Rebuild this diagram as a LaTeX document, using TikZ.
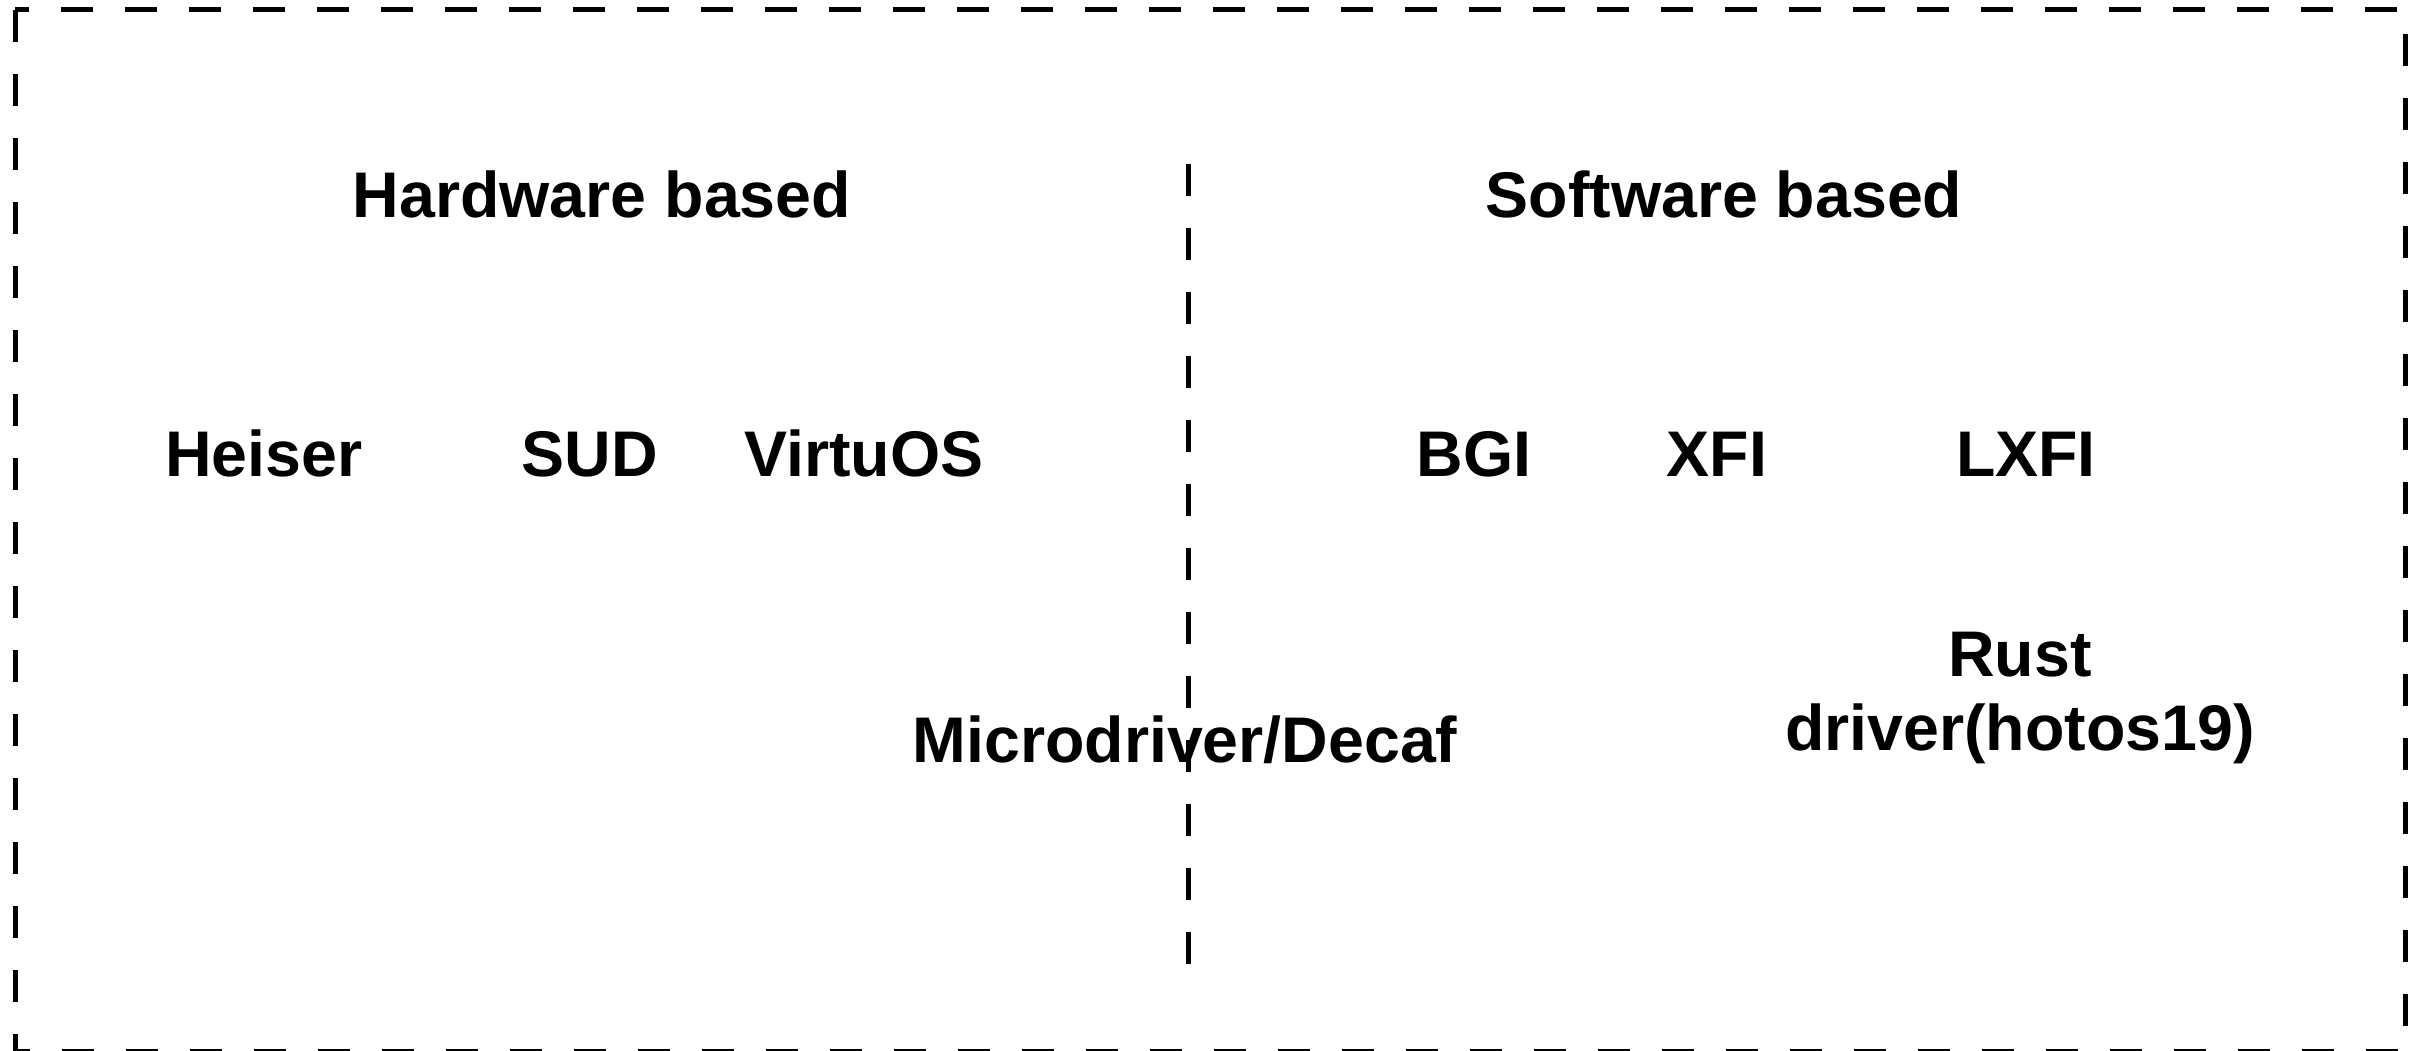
\documentclass[tikz,border=0pt]{standalone}
\usepackage{fontspec}
\setmainfont{Liberation Sans}
\begin{document}
\begin{tikzpicture}[x=1pt,y=-1pt,
  lbl/.style={font=\bfseries\fontsize{64.5}{74}\selectfont, inner sep=0pt, anchor=base},
  dashline/.style={line width=5pt, dash pattern=on 32pt off 32pt, line cap=butt}]
\useasboundingbox (0,0) rectangle (2432,1051);
% outer frame
\draw[dashline] (15,10) rectangle (2405,1051);
% headings
\node[lbl] (hw) at (602,218) {Hardware based};
\node[lbl] (sw) at (1724,218) {Software based};
% items
\node[lbl] (heiser) at (264,476) {Heiser};
\node[lbl] (sud) at (590,476) {SUD};
\node[lbl] (virtuos) at (864,476) {VirtuOS};
\node[lbl] (bgi) at (1474,476) {BGI};
\node[lbl] (xfi) at (1717,476) {XFI};
\node[lbl] (lxfi) at (2026,476) {LXFI};
\node[lbl, anchor=center, align=center] (rust) at (2020,698) {Rust\\driver(hotos19)};
\node[lbl] (micro) at (1185,762) {Microdriver/Decaf};
% divider
\coordinate (dtop) at (1188,164);
\coordinate (dbot) at (1188,965);
\draw[dashline] (dtop) -- (dbot);
\end{tikzpicture}
\end{document}
